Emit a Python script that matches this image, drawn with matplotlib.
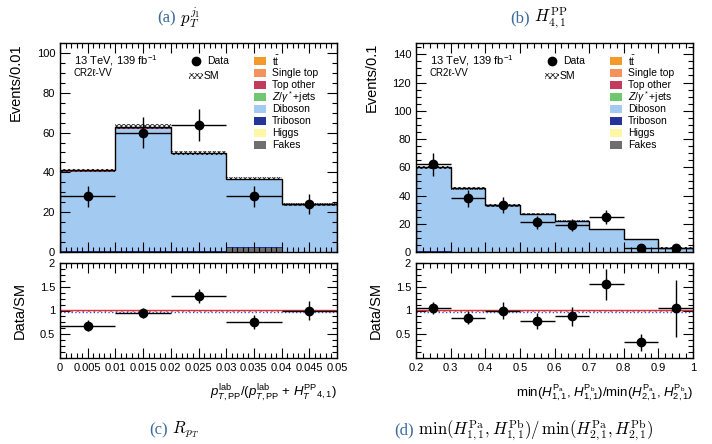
import numpy as np
import matplotlib
matplotlib.use("Agg")
import matplotlib.pyplot as plt
from matplotlib.ticker import AutoMinorLocator, MultipleLocator, FuncFormatter
from matplotlib.patches import Rectangle

plt.rcParams['font.family'] = ['Liberation Sans', 'DejaVu Sans']
plt.rcParams['mathtext.fontset'] = 'custom'
plt.rcParams['mathtext.rm'] = 'Liberation Sans'
plt.rcParams['mathtext.it'] = 'Liberation Sans:italic'
plt.rcParams['mathtext.bf'] = 'Liberation Sans:bold'
plt.rcParams['hatch.linewidth'] = 0.6

# ---------------- data ----------------
process_names = [r"$\rm t\bar{t}$", "Single top", "Top other", r"$Z/\gamma^*$+jets",
                 "Diboson", "Triboson", "Higgs", "Fakes"]
process_colors = ["#f39a2c", "#f4925e", "#c23a5c", "#6fc86f",
                  "#a3cbf2", "#28339a", "#fdf7a6", "#6e6e6e"]

# panel (a): p_T ratio R_pT
edges_a = [0.0, 0.01, 0.02, 0.03, 0.04, 0.05]
fakes_a = [0.0, 0.0, 0.0, 2.0, 0.0]
higgs_a = [0.1, 0.1, 0.1, 0.1, 0.1]
tribo_a = [0.2, 0.3, 0.2, 0.2, 0.1]
dibo_a = [40.0, 61.5, 48.9, 33.9, 23.3]
zjets_a = [0.1, 0.1, 0.1, 0.1, 0.1]
topother_a = [0.3, 0.5, 0.3, 0.3, 0.2]
singletop_a = [0.1, 0.2, 0.1, 0.1, 0.1]
ttbar_a = [0.2, 0.3, 0.2, 0.2, 0.1]
data_a = [28, 60, 64, 28, 24]
data_err_a = [5.3, 7.7, 8.0, 5.3, 4.9]
ratio_a = [0.68, 0.95, 1.30, 0.76, 1.00]
ratio_err_a = [0.12, 0.11, 0.15, 0.14, 0.20]

# panel (b): min(H11)/min(H21)
edges_b = [0.2, 0.3, 0.4, 0.5, 0.6, 0.7, 0.8, 0.9, 1.0]
fakes_b = [0.0, 0.0, 0.0, 0.0, 0.0, 0.0, 0.0, 0.0]
higgs_b = [0.1, 0.1, 0.1, 0.1, 0.1, 0.1, 0.0, 0.0]
tribo_b = [0.3, 0.2, 0.2, 0.2, 0.1, 0.1, 0.1, 0.0]
dibo_b = [58.8, 44.0, 32.2, 26.2, 21.3, 15.3, 8.6, 2.8]
zjets_b = [0.1, 0.1, 0.1, 0.1, 0.1, 0.1, 0.1, 0.0]
topother_b = [0.4, 0.3, 0.2, 0.2, 0.2, 0.2, 0.1, 0.1]
singletop_b = [0.1, 0.1, 0.1, 0.1, 0.1, 0.1, 0.0, 0.0]
ttbar_b = [0.2, 0.2, 0.1, 0.1, 0.1, 0.1, 0.1, 0.1]
data_b = [62, 38, 33, 21, 19, 25, 3, 3]
data_err_b = [7.9, 6.2, 5.7, 4.6, 4.4, 5.0, 1.7, 1.7]
ratio_b = [1.05, 0.85, 1.00, 0.78, 0.88, 1.55, 0.33, 1.05]
ratio_err_b = [0.12, 0.13, 0.17, 0.17, 0.20, 0.32, 0.18, 0.60]

y_ticks_a = [0, 20, 40, 60, 80, 100]
y_ticks_b = [0, 20, 40, 60, 80, 100, 120, 140]

W, H = 712, 444
fig = plt.figure(figsize=(W / 100, H / 100), dpi=100)


def fx(px):
    return px / W


def fy(py):
    return 1 - py / H


def root_ticks(ax, nminor_x=5, nminor_y=4):
    ax.tick_params(which='both', direction='in', top=True, right=True,
                   labelsize=8, width=0.8)
    ax.tick_params(which='major', length=7)
    ax.tick_params(which='minor', length=3.5)
    ax.xaxis.set_minor_locator(AutoMinorLocator(nminor_x))
    ax.yaxis.set_minor_locator(AutoMinorLocator(nminor_y))
    for s in ax.spines.values():
        s.set_linewidth(1.0)


def draw_panel(left_px, edges, stacks, data, derr, ratio, rerr, ylim, yticks,
               ylabel, xlabel, xmajor, xfmt):
    edges = np.array(edges, dtype=float)
    centers = 0.5 * (edges[:-1] + edges[1:])
    halfw = 0.5 * (edges[1:] - edges[:-1])
    ax = fig.add_axes([fx(left_px), fy(252), fx(277), (252 - 43) / H])
    rax = fig.add_axes([fx(left_px), fy(358), fx(277), (358 - 263) / H])

    # stack from bottom: Fakes, Higgs, Triboson, Diboson, Z, Top other, Single top, ttbar
    order = [7, 6, 5, 4, 3, 2, 1, 0]
    bottom = np.zeros(len(centers))
    for idx in order:
        vals = np.array(stacks[idx], dtype=float)
        top = bottom + vals
        ax.fill_between(edges, np.append(bottom, bottom[-1]), np.append(top, top[-1]),
                        step='post', color=process_colors[idx], linewidth=0)
        bottom = top
    total = bottom
    unc = 0.012 * total + 0.4
    ax.fill_between(edges, np.append(total - unc, (total - unc)[-1]),
                    np.append(total + unc, (total + unc)[-1]),
                    step='post', facecolor='none', edgecolor='#222222',
                    hatch='xxxxxxx', linewidth=0)
    ax.stairs(total, edges, color='black', linewidth=1.0)
    ax.errorbar(centers, data, yerr=derr, xerr=halfw, fmt='o', color='black',
                markersize=6, elinewidth=1.0, capsize=0)
    ax.set_xlim(edges[0], edges[-1])
    ax.set_ylim(*ylim)
    ax.set_yticks(yticks)
    ax.xaxis.set_major_locator(MultipleLocator(xmajor))
    ax.tick_params(labelbottom=False)
    root_ticks(ax)

    # labels inside
    ax.text(0.05, 0.915, r"13 TeV, 139 fb$^{-1}$", transform=ax.transAxes,
            fontsize=8, va='center', ha='left')
    ax.text(0.05, 0.855, "CR2\u2113-VV", transform=ax.transAxes,
            fontsize=7, va='center', ha='left')
    ax.plot([0.49], [0.915], 'o', color='black', markersize=6, transform=ax.transAxes)
    ax.text(0.53, 0.915, "Data", transform=ax.transAxes, fontsize=7.5,
            va='center', ha='left')
    ax.add_patch(Rectangle((0.465, 0.83), 0.05, 0.025, transform=ax.transAxes,
                           facecolor='none', edgecolor='#333333', hatch='xxxxxx',
                           linewidth=0))
    ax.text(0.52, 0.842, "SM", transform=ax.transAxes, fontsize=7.5,
            va='center', ha='left')
    for i, (name, col) in enumerate(zip(process_names, process_colors)):
        yy = 0.915 - i * 0.0576
        ax.add_patch(Rectangle((0.70, yy - 0.02), 0.045, 0.04, transform=ax.transAxes,
                               facecolor=col, edgecolor='none'))
        ax.text(0.765, yy, name, transform=ax.transAxes, fontsize=7.5,
                va='center', ha='left')

    # ratio panel
    rax.fill_between([edges[0], edges[-1]], 0.975, 1.02, facecolor='none',
                     edgecolor='#e07070', hatch='xxxxxx', linewidth=0)
    rax.axhline(1.015, color='#e03030', linewidth=1.0)
    rax.axhline(0.975, color='#3050e0', linewidth=1.0, linestyle=':')
    rax.errorbar(centers, ratio, yerr=rerr, xerr=halfw, fmt='o', color='black',
                 markersize=6, elinewidth=1.0, capsize=0)
    rax.set_xlim(edges[0], edges[-1])
    rax.set_ylim(0.0, 2.0)
    rax.set_yticks([0.5, 1.0, 1.5, 2.0])
    rax.yaxis.set_major_formatter(FuncFormatter(lambda v, p: f"{v:g}"))
    rax.xaxis.set_major_locator(MultipleLocator(xmajor))
    rax.xaxis.set_major_formatter(FuncFormatter(xfmt))
    root_ticks(rax)

    fig.text(fx(left_px - 44), fy(43), ylabel, rotation=90, ha='center', va='top',
             fontsize=10.5)
    fig.text(fx(left_px - 40), fy(310), "Data/SM", rotation=90, ha='center',
             va='center', fontsize=10.5)
    fig.text(fx(left_px + 277), fy(393), xlabel, ha='right', va='center',
             fontsize=9.5)
    return ax, rax


stacks_a = [ttbar_a, singletop_a, topother_a, zjets_a, dibo_a, tribo_a, higgs_a, fakes_a]
stacks_b = [ttbar_b, singletop_b, topother_b, zjets_b, dibo_b, tribo_b, higgs_b, fakes_b]

draw_panel(60, edges_a, stacks_a, data_a, data_err_a, ratio_a, ratio_err_a,
           (0, 105), y_ticks_a, "Events/0.01",
           r"$p^{\rm lab}_{T,\rm PP}/(p^{\rm lab}_{T,\rm PP}$ + $H_T^{\rm PP}{}_{4,1})$",
           0.005, lambda v, p: f"{v:.3f}".rstrip('0').rstrip('.') if abs(v) > 1e-9 else "0")
draw_panel(416, edges_b, stacks_b, data_b, data_err_b, ratio_b, ratio_err_b,
           (0, 148), y_ticks_b, "Events/0.1",
           r"min($H^{\rm P_a}_{1,1}$, $H^{\rm P_b}_{1,1}$)/min($H^{\rm P_a}_{2,1}$, $H^{\rm P_b}_{2,1}$)",
           0.1, lambda v, p: f"{v:.1f}".rstrip('0').rstrip('.'))

# captions
blue = "#3b6a9c"
caps = [
    (176, 18, "(a)", r" $p_T^{j_1}$"),
    (530, 18, "(b)", r" $H_{4,1}^{\mathrm{PP}}$"),
    (168, 430, "(c)", r" $R_{p_T}$"),
    (414, 430, "(d)", r" $\min(H_{1,1}^{\mathrm{Pa}}, H_{1,1}^{\mathrm{Pb}})/\,\min(H_{2,1}^{\mathrm{Pa}}, H_{2,1}^{\mathrm{Pb}})$"),
]
for xs, ys, lab, math in caps:
    fig.text(fx(xs), fy(ys), lab, ha='right', va='center', color=blue,
             fontsize=12, family='Liberation Serif')
    fig.text(fx(xs), fy(ys), math, ha='left', va='center', color='black',
             fontsize=12, math_fontfamily='cm')

fig.savefig("out.png", dpi=100)
